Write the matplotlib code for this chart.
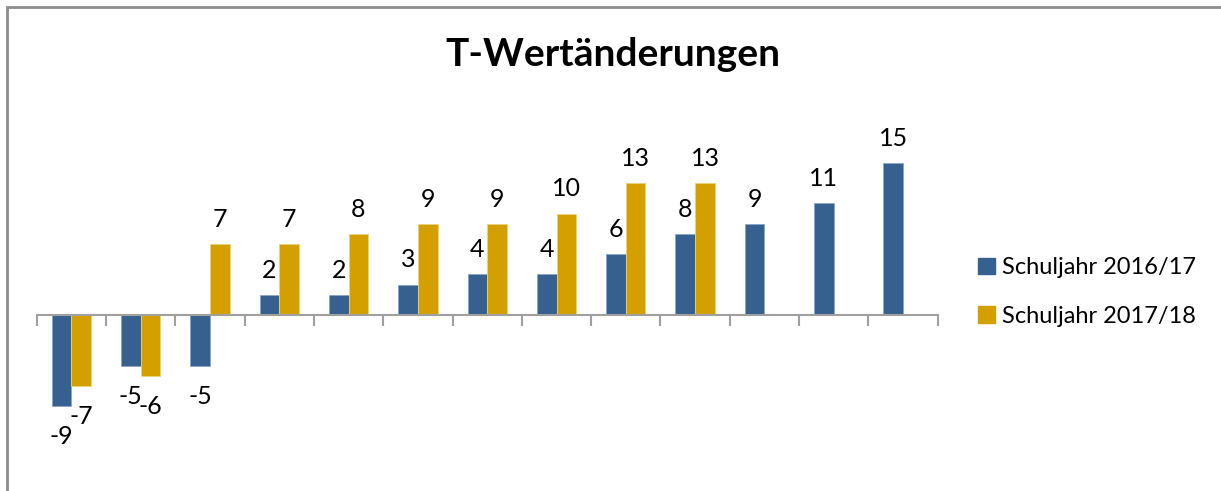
"""T-Wertänderungen: Vergleich zweier Schuljahre als gruppierte Balken."""

import matplotlib

matplotlib.use("Agg")
import matplotlib.pyplot as plt
import numpy as np
from matplotlib.patches import Rectangle

SERIES_1 = "Schuljahr 2016/17"
SERIES_2 = "Schuljahr 2017/18"
values_1 = [-9, -5, -5, 2, 2, 3, 4, 4, 6, 8, 9, 11, 15]
values_2 = [-7, -6, 7, 7, 8, 9, 9, 10, 13, 13, None, None, None]
BLUE = "#35608f"
GOLD = "#d4a000"

plt.rcParams["font.family"] = ["Lato", "DejaVu Sans"]

W, H = 1221, 491
fig = plt.figure(figsize=(W / 100, H / 100), dpi=100)
ax = fig.add_axes([36.7 / W, 1 - 447 / H, 901 / W, 304.5 / H])

n = len(values_1)
x = np.arange(n) + 0.5
width = 0.284


def _labels(xs, vals):
    for xi, v in zip(xs, vals):
        if v is None:
            continue
        if v >= 0:
            ax.annotate(str(v), (xi, v), xytext=(0, 9.5), textcoords="offset points",
                        ha="center", va="bottom", fontsize=18)
        else:
            ax.annotate(str(v), (xi, v), xytext=(0, -13.5), textcoords="offset points",
                        ha="center", va="top", fontsize=18)


v1 = np.array(values_1, dtype=float)
v2 = np.array([np.nan if v is None else v for v in values_2], dtype=float)
ax.bar(x - width / 2, v1, width, color=BLUE, edgecolor="#8aa5c8", linewidth=0.6, label=SERIES_1)
ax.bar(x + width / 2, v2, width, color=GOLD, edgecolor="#ecd27a", linewidth=0.6, label=SERIES_2)
_labels(x - width / 2, values_1)
_labels(x + width / 2, values_2)

ax.set_xlim(0, n)
ax.set_ylim(-13, 17)
for side in ("top", "right", "left"):
    ax.spines[side].set_visible(False)
ax.spines["bottom"].set_position(("data", 0))
ax.spines["bottom"].set_color("#a0a0a0")
ax.spines["bottom"].set_linewidth(1.5)
ax.set_xticks(np.arange(n + 1))
ax.set_xticklabels([])
ax.tick_params(axis="x", direction="out", length=8, width=1.5, color="#a0a0a0")
ax.set_yticks([])
ax.patch.set_visible(False)

fig.text(613 / W, 1 - 55 / H, "T-Wertänderungen", ha="center", va="center",
         fontsize=28, fontweight="bold")

handles = [Rectangle((0, 0), 1, 1, color=BLUE), Rectangle((0, 0), 1, 1, color=GOLD)]
fig.legend(handles, [SERIES_1, SERIES_2], loc="center left",
           bbox_to_anchor=(957 / W, 1 - 292 / H), frameon=False, fontsize=17,
           handlelength=0.7, handleheight=0.7, handletextpad=0.3, labelspacing=1.15)

fig.patches.append(Rectangle((7 / W, -0.1), 1.2, (1 - 7 / H) + 0.1, transform=fig.transFigure,
                             fill=False, edgecolor="#8c8c8c", linewidth=2))

fig.savefig("out.png", dpi=100)
